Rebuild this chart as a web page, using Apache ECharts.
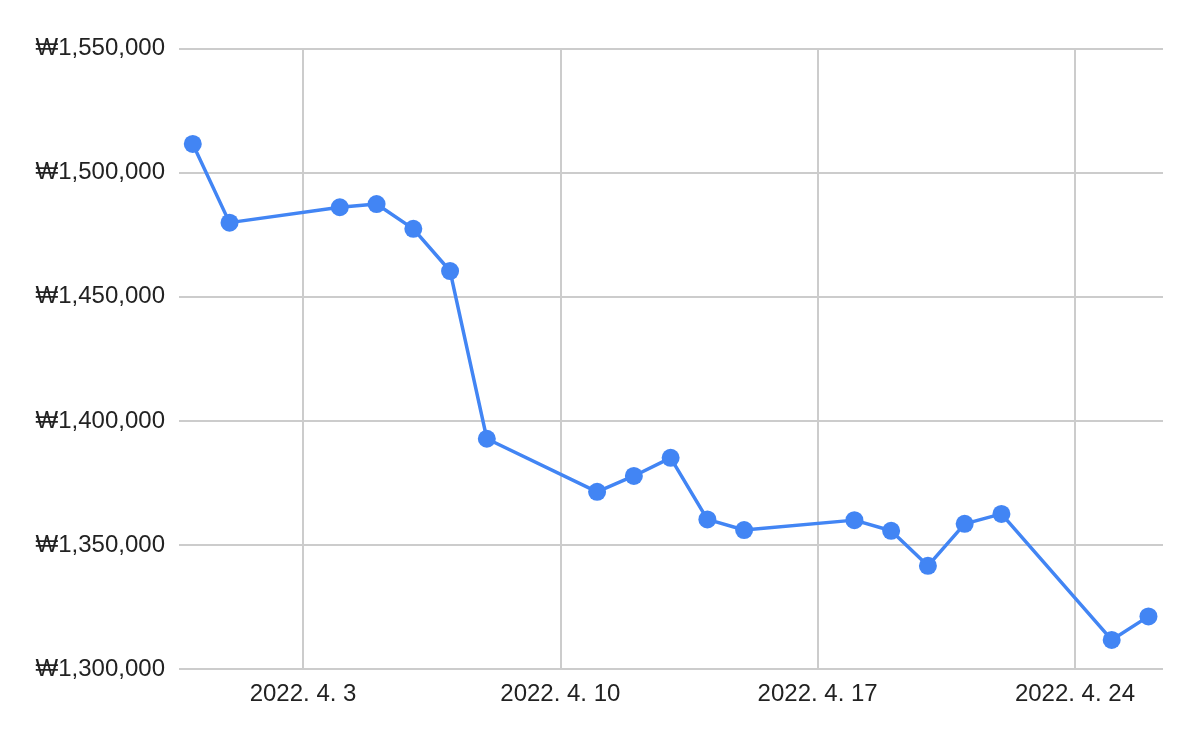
<!DOCTYPE html>
<html>
<head>
<meta charset="utf-8">
<script src="https://cdn.jsdelivr.net/npm/echarts@6/dist/echarts.min.js"></script>
<style>html,body{margin:0;padding:0;background:#fff;}#chart{width:1200px;height:742px;}</style>
</head>
<body>
<div id="chart"></div>
<script>
const dates = ['2022-03-31','2022-04-01','2022-04-04','2022-04-05','2022-04-06','2022-04-07','2022-04-08',
  '2022-04-11','2022-04-12','2022-04-13','2022-04-14','2022-04-15',
  '2022-04-18','2022-04-19','2022-04-20','2022-04-21','2022-04-22',
  '2022-04-25','2022-04-26'];
const values = [1511600,1479900,1486100,1487400,1477400,1460400,1392800,
  1371400,1377800,1385100,1360300,1356000,
  1360000,1355700,1341600,1358500,1362500,
  1311700,1321200];
const xTickDates = ['2022-04-03','2022-04-10','2022-04-17','2022-04-24'];
const yTicks = [1300000,1350000,1400000,1450000,1500000,1550000];

function toTs(s){ const p=s.split('-').map(Number); return new Date(p[0],p[1]-1,p[2]).getTime(); }
const xTicks = xTickDates.map(toTs);
const FONT = 'Arial, "Liberation Sans", sans-serif';

const chart = echarts.init(document.getElementById('chart'), null, {renderer:'canvas'});
chart.setOption({
  animation:false,
  backgroundColor:'#ffffff',
  grid:{left:179, right:37, top:48.7, bottom:73, containLabel:false},
  xAxis:{
    type:'value',
    min:new Date(2022,2,30,15,0).getTime(),
    max:new Date(2022,3,26,9,30).getTime(),
    axisLine:{show:false},
    axisTick:{show:false, customValues:xTicks},
    splitLine:{show:true, lineStyle:{color:'#cccccc', width:2}},
    axisLabel:{
      customValues:xTicks,
      margin:13,
      fontSize:24, color:'#222222', fontFamily:FONT,
      formatter:function(v){ const d=new Date(v); return d.getFullYear()+'. '+(d.getMonth()+1)+'. '+d.getDate(); }
    }
  },
  yAxis:{
    type:'value',
    min:yTicks[0], max:yTicks[yTicks.length-1], interval:50000,
    axisLine:{show:false}, axisTick:{show:false},
    splitLine:{show:true, lineStyle:{color:'#cccccc', width:2}},
    axisLabel:{
      margin:14, fontSize:24, color:'#222222', fontFamily:FONT,
      padding:[3,0,0,0],
      formatter:function(v){ return '₩'+Number(v).toLocaleString('en-US'); }
    }
  },
  series:[{
    type:'line',
    data:dates.map((d,i)=>[toTs(d), values[i]]),
    symbol:'circle', symbolSize:18,
    lineStyle:{color:'#4285F4', width:3.5},
    itemStyle:{color:'#4285F4'},
    z:3
  }]
});
</script>
</body>
</html>
